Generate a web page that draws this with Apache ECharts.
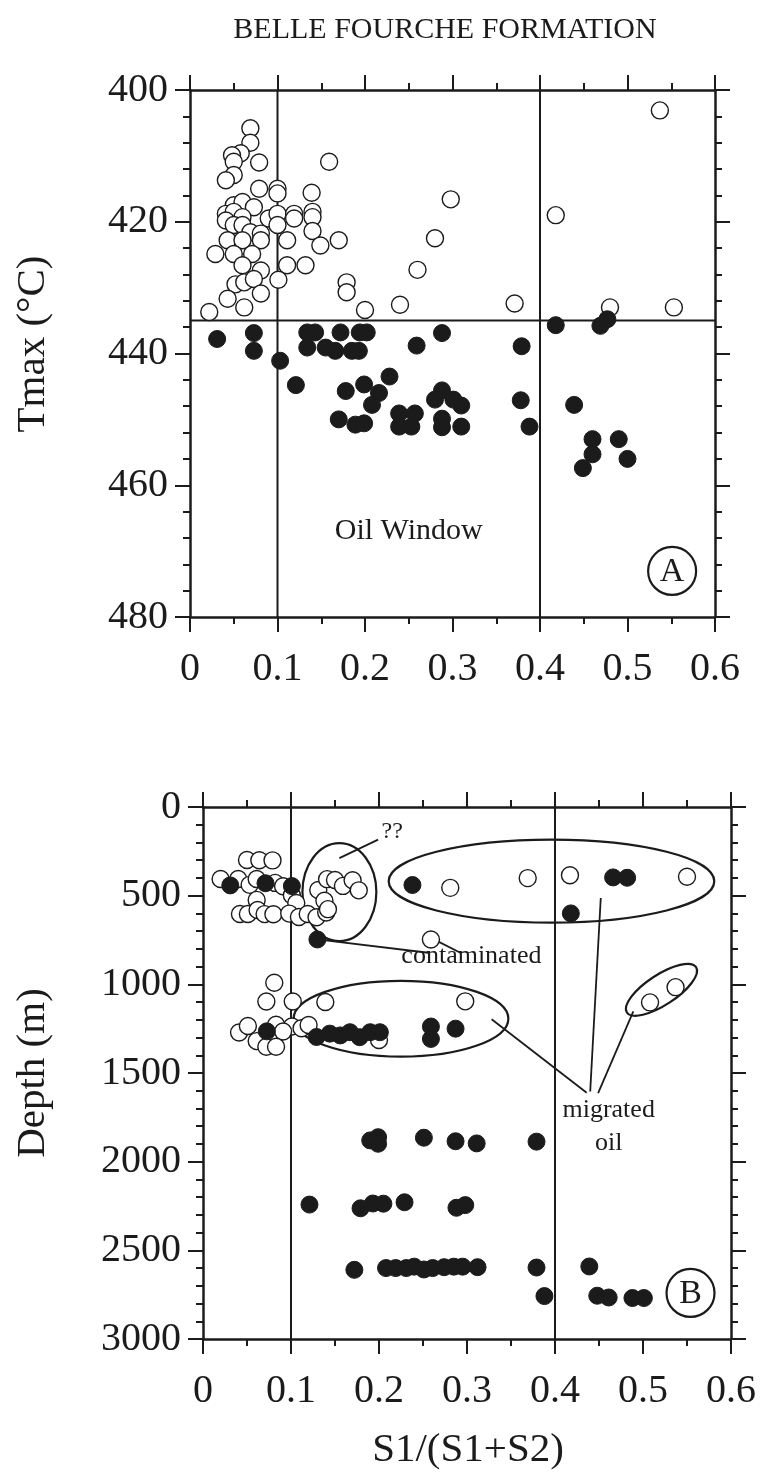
<!DOCTYPE html>
<html>
<head>
<meta charset="utf-8">
<title>Belle Fourche Formation</title>
<script src="https://cdn.jsdelivr.net/npm/echarts@6/dist/echarts.min.js"></script>
<style>
  html, body { margin: 0; padding: 0; background: #fff; }
  #chart { width: 761px; height: 1478px; }
</style>
</head>
<body>
<div id="chart"></div>
<script>
// S1/(S1+S2) on x; panel A: Tmax (°C), panel B: depth (m)
var xTicks = [0, 0.1, 0.2, 0.3, 0.4, 0.5, 0.6];
var tmaxTicks = [400, 420, 440, 460, 480];
var depthTicks = [0, 500, 1000, 1500, 2000, 2500, 3000];

// boundaries of the oil window
var windowX = [0.1, 0.4];
var windowTmax = 435;

// panel A, immature (open) and mature (filled) samples: [S1/(S1+S2), Tmax]
var tmaxOpen = [
  [0.069,405.8],[0.069,408.0],[0.058,409.6],[0.048,409.9],[0.050,410.9],[0.079,411.0],[0.050,412.9],[0.041,413.7],
  [0.079,415.0],[0.100,415.0],[0.100,415.7],[0.139,415.6],[0.159,410.9],[0.050,417.5],[0.060,417.0],[0.073,417.8],
  [0.041,418.8],[0.050,418.5],[0.041,419.8],[0.060,419.3],[0.050,420.5],[0.060,420.5],[0.090,419.5],[0.100,418.8],
  [0.100,420.5],[0.119,418.8],[0.119,419.5],[0.140,418.5],[0.140,419.3],[0.140,421.4],[0.069,421.6],[0.081,421.8],
  [0.043,422.8],[0.060,422.8],[0.081,422.8],[0.111,422.8],[0.149,423.6],[0.170,422.8],[0.029,424.9],[0.050,424.9],
  [0.071,424.9],[0.060,426.6],[0.081,427.4],[0.111,426.6],[0.132,426.6],[0.101,428.8],[0.052,429.5],[0.062,429.2],
  [0.073,428.7],[0.081,430.9],[0.043,431.7],[0.062,433.0],[0.022,433.7],[0.179,429.2],[0.179,430.7],[0.200,433.4],
  [0.240,432.6],[0.260,427.3],[0.280,422.5],[0.298,416.6],[0.371,432.4],[0.418,419.0],[0.480,433.0],[0.537,403.1],
  [0.553,433.0]
];
var tmaxFilled = [
  [0.031,437.8],[0.073,436.9],[0.073,439.6],[0.103,441.1],[0.121,444.8],
  [0.134,436.8],[0.143,436.8],[0.134,439.1],[0.155,439.1],[0.172,436.8],[0.166,439.6],[0.185,439.6],
  [0.194,436.8],[0.202,436.8],[0.193,439.6],
  [0.178,445.7],[0.199,444.7],[0.228,443.5],[0.216,446.0],[0.208,447.8],[0.170,450.0],[0.189,450.8],[0.199,450.6],
  [0.239,449.1],[0.257,449.1],[0.239,451.1],[0.253,451.1],
  [0.288,445.6],[0.280,447.0],[0.301,447.0],[0.310,447.9],[0.288,449.9],[0.288,451.2],[0.310,451.1],
  [0.288,436.9],[0.259,438.8],[0.379,438.9],[0.378,447.1],[0.388,451.1],
  [0.418,435.7],[0.469,435.8],[0.477,434.8],[0.439,447.8],[0.460,453.0],[0.460,455.3],[0.449,457.4],
  [0.490,453.0],[0.500,456.0]
];

// panel B: [S1/(S1+S2), depth m]
var depthOpen = [
  [0.050,299],[0.064,300],[0.079,301],
  [0.020,406],[0.040,406],[0.053,439],[0.061,406],[0.082,428],[0.091,447],[0.101,498],[0.061,524],[0.106,541],
  [0.042,603],[0.051,603],[0.062,581],[0.070,604],[0.080,605],[0.098,601],[0.109,620],[0.119,603],[0.129,622],[0.140,595],
  [0.131,468],[0.141,407],[0.150,412],[0.159,445],[0.170,413],[0.177,470],[0.138,529],[0.142,576],
  [0.259,747],[0.281,456],[0.369,401],[0.417,385],[0.550,393],
  [0.081,991],[0.072,1097],[0.102,1097],[0.139,1100],[0.101,1238],
  [0.041,1272],[0.051,1235],[0.083,1228],[0.091,1266],[0.112,1248],[0.120,1229],[0.061,1320],[0.072,1352],[0.083,1352],
  [0.200,1314],[0.298,1096],[0.508,1102],[0.537,1016]
];
var depthFilled = [
  [0.031,442],[0.071,430],[0.101,446],[0.130,747],
  [0.238,440],[0.466,397],[0.482,399],[0.418,600],
  [0.0725,1265],[0.129,1297],[0.144,1278],[0.156,1288],[0.167,1270],[0.178,1298],[0.190,1270],[0.201,1270],
  [0.259,1238],[0.259,1308],[0.287,1250],
  [0.190,1880],[0.199,1862],[0.199,1899],[0.251,1865],[0.287,1885],[0.311,1897],[0.379,1887],
  [0.121,2242],[0.179,2263],[0.193,2236],[0.205,2237],[0.229,2229],[0.288,2260],[0.298,2245],
  [0.172,2610],[0.208,2600],[0.219,2600],[0.231,2600],[0.240,2592],[0.251,2608],[0.261,2600],[0.274,2595],
  [0.285,2592],[0.295,2592],[0.312,2595],[0.379,2597],[0.439,2591],
  [0.388,2758],[0.448,2756],[0.461,2766],[0.488,2769],[0.501,2769]
];

var ink = '#1b1b1b';
var serif = "'Liberation Serif', 'Times New Roman', serif";

function fmtX(v) { return v === 0 ? '0' : v.toFixed(1); }
function fmtY(v) { return String(v); }

function makeX(grid, position, labels) {
  return {
    type: 'value', gridIndex: grid, position: position,
    min: xTicks[0], max: xTicks[xTicks.length - 1], interval: xTicks[1] - xTicks[0],
    axisLine: { show: true, onZero: false, lineStyle: { color: ink, width: 2.5 } },
    axisTick: { show: true, inside: false, length: 15, lineStyle: { color: ink, width: 2 } },
    minorTick: { show: true, splitNumber: 2, length: 7, lineStyle: { color: ink, width: 2 } },
    splitLine: { show: false },
    axisLabel: { show: labels, margin: 32, color: ink, fontSize: 40, fontFamily: serif,
      formatter: fmtX, showMinLabel: true, showMaxLabel: true }
  };
}

function makeY(grid, position, ticks, labels) {
  return {
    type: 'value', gridIndex: grid, position: position, inverse: true,
    min: ticks[0], max: ticks[ticks.length - 1], interval: ticks[1] - ticks[0],
    axisLine: { show: true, onZero: false, lineStyle: { color: ink, width: 2.5 } },
    axisTick: { show: true, inside: false, length: 15, lineStyle: { color: ink, width: 2 } },
    minorTick: { show: true, splitNumber: 5, length: 7, lineStyle: { color: ink, width: 2 } },
    splitLine: { show: false },
    axisLabel: { show: labels, margin: 22, color: ink, fontSize: 40, fontFamily: serif,
      formatter: fmtY, showMinLabel: true, showMaxLabel: true }
  };
}

function limitLine(axisIdx, pts) {
  return {
    type: 'line', xAxisIndex: axisIdx, yAxisIndex: axisIdx, data: pts, z: 1,
    symbol: 'none', silent: true, animation: false,
    lineStyle: { color: ink, width: 2 }
  };
}

function dots(axisIdx, data, filled) {
  return {
    type: 'scatter', xAxisIndex: axisIdx, yAxisIndex: axisIdx, data: data,
    symbol: 'circle', symbolSize: 17, z: filled ? 4 : 3, animation: false,
    itemStyle: filled ? { color: ink, borderColor: ink, borderWidth: 1, opacity: 1 }
                      : { color: '#fff', borderColor: ink, borderWidth: 1.4, opacity: 1 }
  };
}

var xMin = xTicks[0], xMax = xTicks[xTicks.length - 1];
var series = [
  limitLine(0, [[windowX[0], tmaxTicks[0]], [windowX[0], tmaxTicks[tmaxTicks.length - 1]]]),
  limitLine(0, [[windowX[1], tmaxTicks[0]], [windowX[1], tmaxTicks[tmaxTicks.length - 1]]]),
  limitLine(0, [[xMin, windowTmax], [xMax, windowTmax]]),
  dots(0, tmaxOpen, false),
  dots(0, tmaxFilled, true),
  limitLine(2, [[windowX[0], depthTicks[0]], [windowX[0], depthTicks[depthTicks.length - 1]]]),
  limitLine(2, [[windowX[1], depthTicks[0]], [windowX[1], depthTicks[depthTicks.length - 1]]]),
  dots(2, depthOpen, false),
  dots(2, depthFilled, true)
];

var chart = echarts.init(document.getElementById('chart'));
chart.setOption({
  backgroundColor: '#fff',
  animation: false,
  grid: [
    { left: 190, top: 90, width: 525, height: 527 },
    { left: 203, top: 807, width: 528, height: 532 }
  ],
  xAxis: [makeX(0, 'bottom', true), makeX(0, 'top', false), makeX(1, 'bottom', true), makeX(1, 'top', false)],
  yAxis: [makeY(0, 'left', tmaxTicks, true), makeY(0, 'right', tmaxTicks, false),
          makeY(1, 'left', depthTicks, true), makeY(1, 'right', depthTicks, false)],
  series: series
});

// annotations, anchored in data units of each panel
function toPx(panel, p) {
  return chart.convertToPixel({ seriesIndex: panel === 0 ? 3 : 7 }, p);
}
function spanX(panel, p, a) { return Math.abs(toPx(panel, [p[0] + a, p[1]])[0] - toPx(panel, p)[0]); }
function spanY(panel, p, b) { return Math.abs(toPx(panel, [p[0], p[1] + b])[1] - toPx(panel, p)[1]); }

var ovals = [
  { c: [0.155, 480], a: 0.042, b: 276, rot: 0 },
  { c: [0.396, 418], a: 0.185, b: 234, rot: 0 },
  { c: [0.225, 1194], a: 0.122, b: 214, rot: 0 },
  { c: [0.521, 1031], a: 0.047, b: 85, rot: 0.58 }
];
var leaders = [
  [[0.155, 288], [0.199, 184]],
  [[0.130, 747], [0.256, 822]],
  [[0.263, 748], [0.293, 823]],
  [[0.328, 1197], [0.436, 1611]],
  [[0.452, 513], [0.440, 1604]],
  [[0.489, 1153], [0.449, 1613]]
];
var notes = [
  { panel: 0, at: [0.25, 467], text: 'Oil Window', size: 30 },
  { panel: 1, at: [0.215, 140], text: '??', size: 24 },
  { panel: 1, at: [0.305, 843], text: 'contaminated', size: 26 },
  { panel: 1, at: [0.461, 1707], text: 'migrated', size: 26 },
  { panel: 1, at: [0.461, 1893], text: 'oil', size: 26 }
];
var badges = [
  { panel: 0, at: [0.551, 473], text: 'A' },
  { panel: 1, at: [0.554, 2740], text: 'B' }
];

var g = [];
ovals.forEach(function (o) {
  var c = toPx(1, o.c);
  g.push({
    type: 'ellipse', x: c[0], y: c[1], rotation: o.rot, silent: true,
    shape: { cx: 0, cy: 0, rx: spanX(1, o.c, o.a), ry: spanY(1, o.c, o.b) },
    style: { fill: 'none', stroke: ink, lineWidth: 2.2 }
  });
});
leaders.forEach(function (l) {
  g.push({
    type: 'polyline', silent: true,
    shape: { points: l.map(function (p) { return toPx(1, p); }) },
    style: { stroke: ink, lineWidth: 1.8, fill: 'none' }
  });
});
notes.forEach(function (n) {
  var p = toPx(n.panel, n.at);
  g.push({
    type: 'text', x: p[0], y: p[1], silent: true,
    style: { text: n.text, fill: ink, fontSize: n.size, fontFamily: serif, align: 'center', verticalAlign: 'middle' }
  });
});
badges.forEach(function (b) {
  var p = toPx(b.panel, b.at);
  g.push({ type: 'circle', silent: true, shape: { cx: p[0], cy: p[1], r: 24 },
    style: { fill: 'none', stroke: ink, lineWidth: 2.2 } });
  g.push({ type: 'text', x: p[0], y: p[1] + 1, silent: true,
    style: { text: b.text, fill: ink, fontSize: 34, fontFamily: serif, align: 'center', verticalAlign: 'middle' } });
});

// title and axis names
g.push({ type: 'text', x: 445, y: 30, silent: true,
  style: { text: 'BELLE FOURCHE FORMATION', fill: ink, fontSize: 30, fontFamily: serif, align: 'center', verticalAlign: 'middle' } });
g.push({ type: 'text', x: 33, y: 344, rotation: Math.PI / 2, silent: true,
  style: { text: 'Tmax (°C)', fill: ink, fontSize: 41, fontFamily: serif, align: 'center', verticalAlign: 'middle' } });
g.push({ type: 'text', x: 33, y: 1073, rotation: Math.PI / 2, silent: true,
  style: { text: 'Depth (m)', fill: ink, fontSize: 41, fontFamily: serif, align: 'center', verticalAlign: 'middle' } });
g.push({ type: 'text', x: 468, y: 1450, silent: true,
  style: { text: 'S1/(S1+S2)', fill: ink, fontSize: 41, fontFamily: serif, align: 'center', verticalAlign: 'middle' } });

chart.setOption({ graphic: g });
</script>
</body>
</html>
